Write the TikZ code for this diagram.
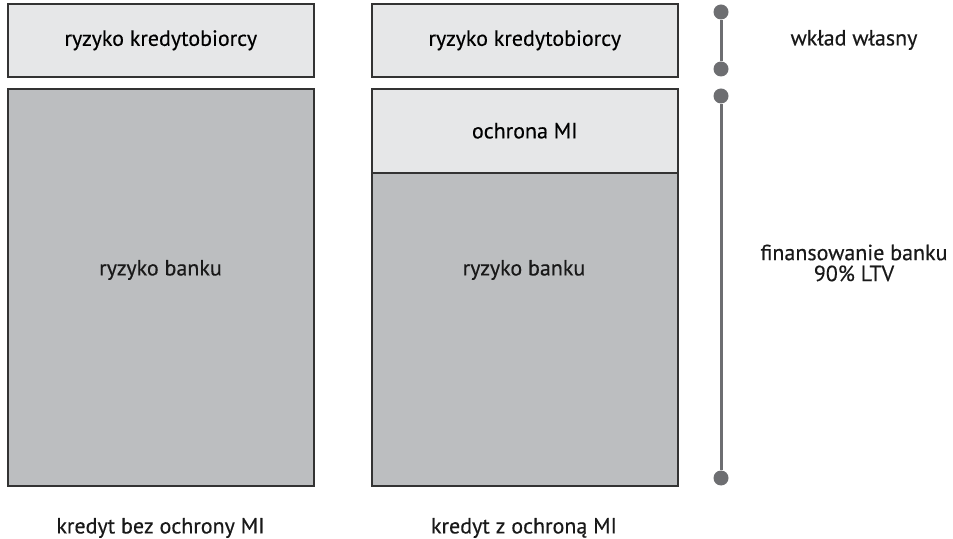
\documentclass[tikz,border=0pt]{standalone}
\usepackage{fontspec}
\setmainfont{PT Sans}[FakeBold=0.35]
\usepackage{tikz}
\usetikzlibrary{positioning}

\definecolor{boxlight}{HTML}{E6E7E8}
\definecolor{boxdark}{HTML}{BCBEC0}
\definecolor{edge}{HTML}{333333}
\definecolor{rail}{HTML}{6D6E71}

\begin{document}
\begin{tikzpicture}[x=0.5pt,y=0.5pt,yscale=-1,xscale=1,
  box/.style={draw=edge, line width=0.8pt, anchor=north west, inner sep=0pt, minimum width=153pt, font=\fontsize{11}{12}\selectfont},
  light/.style={box, fill=boxlight},
  dark/.style={box, fill=boxdark},
  dot/.style={circle, fill=rail, inner sep=0pt, minimum size=7.5pt},
  railline/.style={draw=rail, line width=1.5pt},
  txt/.style={font=\fontsize{11}{10.5}\selectfont, align=center, text=black!90}]
\useasboundingbox (0,0) rectangle (953,539);

% left column
\node[light, minimum height=36.5pt] (lrisk) at (7,3) {ryzyko kredytobiorcy};
\node[dark, minimum height=198.5pt] (lbank) at (7,88) {};
\node[txt] (ltxt) at (160.5,270) {ryzyko banku};

% right column
\node[light, minimum height=36.5pt] (rrisk) at (371,3) {ryzyko kredytobiorcy};
\node[light, minimum height=42pt] (rmi) at (371,88) {ochrona MI};
\node[dark, minimum height=156.5pt] (rbank) at (371,172) {};
\node[txt] (rtxt) at (524,270) {ryzyko banku};

% scale on the right
\node[dot] (d1) at (721,12) {};
\node[dot] (d2) at (721,69) {};
\node[dot] (d3) at (721,96) {};
\node[dot] (d4) at (721,478) {};
\draw[railline] (d1) -- (d2);
\draw[railline] (d3) -- (d4);

% Text Node
\node[txt] (own) at (854,40) {wkład własny};
% Text Node
\node[txt] (fin) at (854,263) {finansowanie banku\\90\% LTV};
% Text Node
\node[txt] (lcap) at (160.5,528) {kredyt bez ochrony MI};
% Text Node
\node[txt] (rcap) at (524,528) {kredyt z ochroną MI};

\end{tikzpicture}
\end{document}
